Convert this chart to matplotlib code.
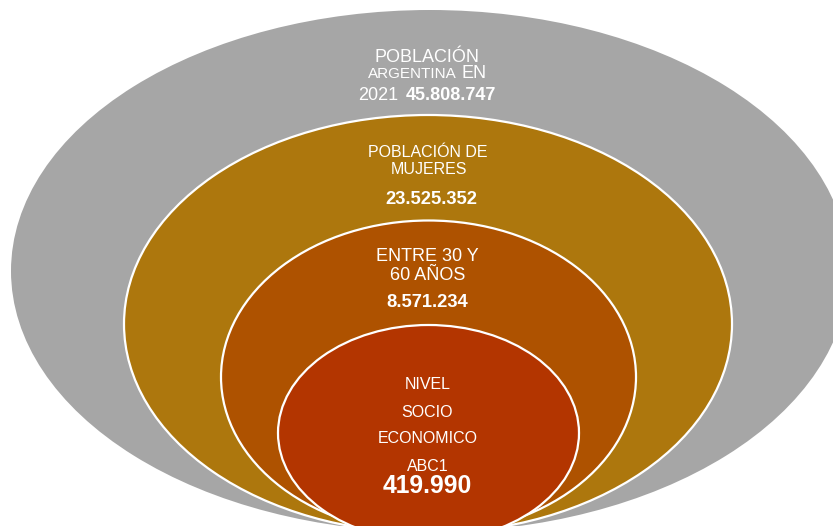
import matplotlib.pyplot as plt
from matplotlib.patches import Ellipse

# nested groups, outer to inner
grupos = ['Población Argentina 2021', 'Mujeres', 'Entre 30 y 60 años', 'NSE ABC1']
valores = ['45.808.747', '23.525.352', '8.571.234', '419.990']
colores = ['#A6A6A6', '#AD770D', '#AE5200', '#B33500']

# ellipse layout in pixels (cx, cy, w, h)
formas = [(430, 271, 838, 522),
          (428, 324, 608, 418),
          (428.5, 377, 415, 313),
          (428.5, 433, 301, 216)]

plt.rcParams['font.family'] = ['Liberation Sans', 'DejaVu Sans']

fig = plt.figure(figsize=(8.33, 5.26), dpi=100)
ax = fig.add_axes([0, 0, 1, 1])
ax.set_xlim(0, 833)
ax.set_ylim(526, 0)
ax.axis('off')

for i, (f, c) in enumerate(zip(formas, colores)):
    borde = 'none' if i == 0 else 'white'
    ax.add_patch(Ellipse((f[0], f[1]), f[2], f[3], facecolor=c,
                         edgecolor=borde, linewidth=1.6, zorder=i + 1))

w = 'white'
kw = dict(color=w, va='baseline', zorder=10)

# outer
ax.text(427, 62, 'POBLACIÓN', ha='center', fontsize=13, **kw)
ax.text(368, 78, 'ARGENTINA', ha='left', fontsize=11, **kw)
ax.text(462, 78, 'EN', ha='left', fontsize=13, **kw)
ax.text(358, 100, '2021', ha='left', fontsize=13, **kw)
ax.text(406, 100, valores[0], ha='left', fontsize=13, fontweight='bold', **kw)

# mujeres
ax.text(428, 157, 'POBLACIÓN DE', ha='center', fontsize=11.5, **kw)
ax.text(429, 174, 'MUJERES', ha='center', fontsize=11.5, **kw)
ax.text(431, 204, valores[1], ha='center', fontsize=13.2, fontweight='bold', **kw)

# 30-60
ax.text(427, 261, 'ENTRE 30 Y', ha='center', fontsize=13, **kw)
ax.text(427.5, 280, '60 AÑOS', ha='center', fontsize=13, **kw)
ax.text(427.5, 307, valores[2], ha='center', fontsize=13.2, fontweight='bold', **kw)

# ABC1
ax.text(427.5, 389, 'NIVEL', ha='center', fontsize=11.5, **kw)
ax.text(427.5, 417, 'SOCIO', ha='center', fontsize=11.5, **kw)
ax.text(427.5, 443, 'ECONOMICO', ha='center', fontsize=11.5, **kw)
ax.text(427.5, 471, 'ABC1', ha='center', fontsize=11.5, **kw)
ax.text(427.5, 493, valores[3], ha='center', fontsize=17.7, fontweight='bold', **kw)

fig.savefig('out.png', dpi=100)
